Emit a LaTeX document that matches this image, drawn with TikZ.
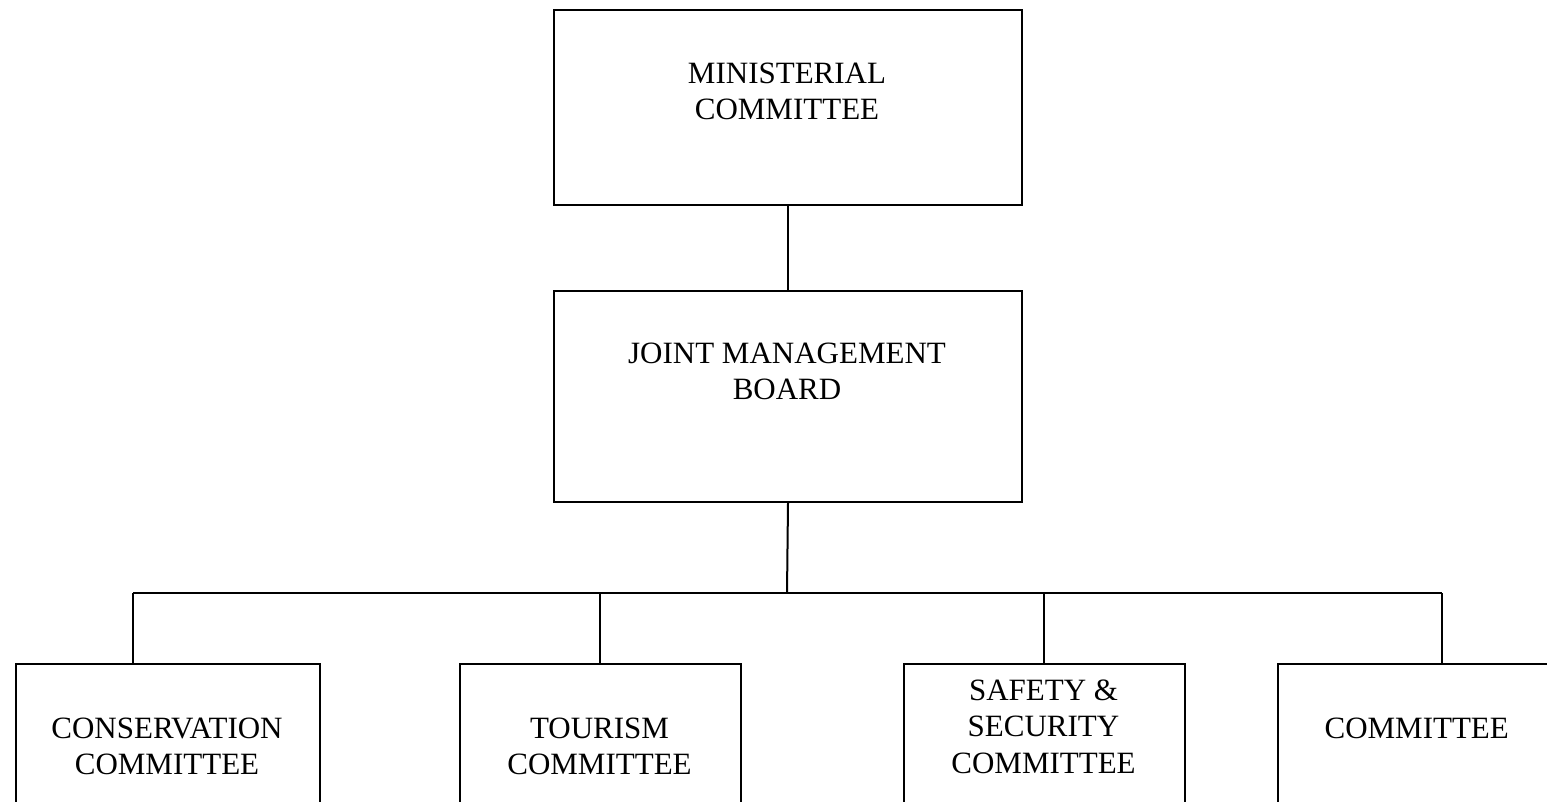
\documentclass[tikz,border=0pt]{standalone}
\usepackage{fontspec}
\setmainfont{Liberation Serif}
\begin{document}
\begin{tikzpicture}[x=1pt,y=-1pt,
  box/.style={draw=black,line width=2pt,rectangle,inner sep=0pt,anchor=north west},
  lbl/.style={align=center,inner sep=0pt,anchor=north,font=\fontsize{31}{36.5}\selectfont},
  link/.style={draw=black,line width=2pt}]
\useasboundingbox (0,0) rectangle (1547,801);
\clip (0,0) rectangle (1547,801);
% boxes
\node[box,minimum width=468pt,minimum height=195pt] (min) at (553,9) {};
\node[box,minimum width=468pt,minimum height=211pt] (jmb) at (553,290) {};
\node[box,minimum width=304pt,minimum height=180pt] (b1) at (15,663) {};
\node[box,minimum width=281pt,minimum height=180pt] (b2) at (459,663) {};
\node[box,minimum width=281pt,minimum height=180pt] (b3) at (903,663) {};
\node[box,minimum width=279pt,minimum height=180pt] (b4) at (1277,663) {};
% labels
\node[lbl] (tmin) at (787,62.5) {MINISTERIAL\\COMMITTEE};
\node[lbl] (tjmb) at (787,342.5) {JOINT MANAGEMENT\\BOARD};
\node[lbl] (t1) at (167,717.5) {CONSERVATION\\COMMITTEE};
\node[lbl] (t2) at (599.5,717.5) {TOURISM\\COMMITTEE};
\node[lbl] (t3) at (1043.5,679.5) {SAFETY \&\\SECURITY\\COMMITTEE};
\node[lbl] (t4) at (1416.7,717.5) {COMMITTEE};
% connectors
\coordinate (hub) at (787,593);
\coordinate (bus1) at (133,593);
\coordinate (bus2) at (600,593);
\coordinate (bus3) at (1044,593);
\coordinate (bus4) at (1442,593);
\draw[link] (min.south) -- (jmb.north);
\draw[link] (jmb.south) -- (hub);
\draw[link] (bus1) -- (bus4);
\draw[link] (bus1) -- (bus1 |- b1.north);
\draw[link] (bus2) -- (bus2 |- b2.north);
\draw[link] (bus3) -- (bus3 |- b3.north);
\draw[link] (bus4) -- (bus4 |- b4.north);
\end{tikzpicture}
\end{document}
